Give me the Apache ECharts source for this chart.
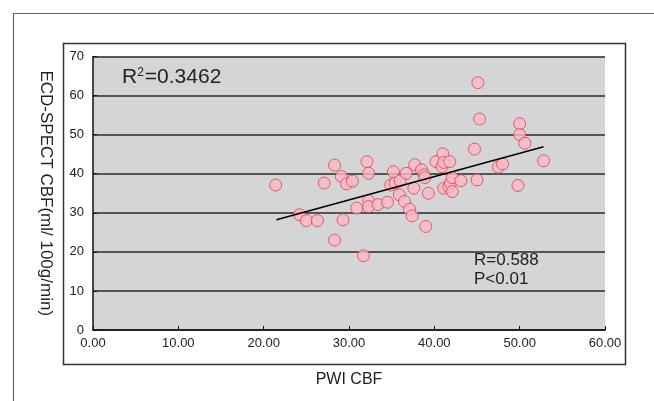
<!DOCTYPE html>
<html>
<head>
<meta charset="utf-8">
<script src="https://cdn.jsdelivr.net/npm/echarts@6/dist/echarts.min.js"></script>
<style>
  html, body { margin: 0; padding: 0; background: #fff; }
  #main { width: 654px; height: 401px; }
</style>
</head>
<body>
<div id="main"></div>
<script>
// PWI CBF (x) vs ECD-SPECT CBF (y)
var pwiCbf = [21.4, 24.2, 25.0, 26.3, 27.1, 28.3, 28.3, 29.1, 29.3, 29.7,
  30.4, 30.9, 31.7, 32.1, 32.3, 32.3, 32.3, 33.4, 34.5, 34.9,
  35.2, 35.4, 35.9, 36.0, 36.5, 36.7, 37.1, 37.4, 37.6, 37.7,
  38.5, 38.8, 38.9, 39.0, 39.3, 40.2, 40.9, 41.0, 41.1, 41.1,
  41.8, 41.7, 41.9, 42.1, 42.1, 43.1, 44.7, 45.0, 45.1, 45.3,
  47.5, 48.0, 49.8, 50.0, 50.0, 50.6, 52.8];
var spectCbf = [37.1, 29.5, 28.0, 28.0, 37.6, 42.2, 23.0, 39.3, 28.2, 37.4,
  38.1, 31.2, 19.0, 43.1, 40.1, 33.1, 31.6, 32.1, 32.7, 37.1,
  40.5, 37.6, 34.6, 38.2, 32.9, 40.1, 30.9, 29.2, 36.3, 42.3,
  41.0, 39.7, 39.0, 26.5, 35.0, 43.1, 41.8, 45.1, 42.9, 36.3,
  43.1, 36.7, 37.6, 35.4, 39.0, 38.2, 46.3, 38.4, 63.3, 54.0,
  41.7, 42.5, 37.0, 52.8, 50.0, 47.8, 43.3];
// linear fit end points
var fitX = [21.5, 52.8];
var fitY = [28.2, 46.9];
var xTicks = [0, 10, 20, 30, 40, 50, 60];
var yTicks = [0, 10, 20, 30, 40, 50, 60, 70];

var points = pwiCbf.map(function (x, i) { return [x, spectCbf[i]]; });
var fitLine = fitX.map(function (x, i) { return [x, fitY[i]]; });

var font = '"Liberation Sans", Arial, sans-serif';
var chart = echarts.init(document.getElementById('main'));
var option = {
  backgroundColor: '#fff',
  animation: false,
  textStyle: { fontFamily: font },
  grid: {
    left: 93, top: 56.5, right: 49, bottom: 71,
    show: true, backgroundColor: '#d5d5d7', borderWidth: 0
  },
  xAxis: {
    type: 'value',
    min: xTicks[0], max: xTicks[xTicks.length - 1], interval: 10,
    name: 'PWI CBF', nameLocation: 'center', nameGap: 42,
    nameTextStyle: { fontSize: 16, color: '#222', fontFamily: font },
    axisLine: { onZero: false, lineStyle: { color: '#111', width: 1.5 } },
    axisTick: { inside: true, length: 4, lineStyle: { color: '#111' } },
    axisLabel: {
      fontSize: 13, color: '#222', margin: 7,
      formatter: function (v) { return v.toFixed(2); }
    },
    splitLine: { show: false }
  },
  yAxis: {
    type: 'value',
    min: yTicks[0], max: yTicks[yTicks.length - 1], interval: 10,
    name: 'ECD-SPECT CBF(ml/ 100g/min)', nameLocation: 'center', nameGap: 39,
    nameRotate: -90,
    nameTextStyle: { fontSize: 17, color: '#222', fontFamily: font },
    axisLine: { onZero: false, lineStyle: { color: '#111', width: 1.5 } },
    axisTick: { inside: true, length: 4, lineStyle: { color: '#111' } },
    axisLabel: { fontSize: 13, color: '#222', margin: 9 },
    splitLine: { lineStyle: { color: '#2a2a2a', width: 1.5 } }
  },
  series: [
    {
      type: 'scatter',
      data: points,
      symbol: 'circle',
      symbolSize: 12,
      itemStyle: { color: '#f6b9c6', borderColor: '#e4404f', borderWidth: 1 },
      z: 3
    },
    {
      type: 'line',
      data: fitLine,
      showSymbol: false,
      lineStyle: { color: '#000', width: 1.5 },
      z: 4
    }
  ],
  graphic: [
    {
      type: 'rect', left: 11, top: 11, silent: true,
      shape: { width: 700, height: 420 },
      style: { fill: 'none', stroke: '#666', lineWidth: 1.2 }
    },
    {
      type: 'rect', left: 61, top: 41, silent: true,
      shape: { width: 562, height: 321 },
      style: { fill: 'none', stroke: '#333', lineWidth: 1.5 }
    },
    {
      type: 'text', left: 122, top: 67, z: 10,
      style: {
        text: '{a|R}{s|2}{a|=0.3462}',
        rich: {
          a: { fontSize: 21, fill: '#222', fontFamily: font },
          s: { fontSize: 12, fill: '#222', fontFamily: font, verticalAlign: 'top', padding: [0, 1, 9, 0] }
        }
      }
    },
    {
      type: 'text', left: 474, top: 251, z: 10,
      style: { text: 'R=0.588\nP<0.01', fontSize: 17, lineHeight: 19, fill: '#222', fontFamily: font }
    }
  ]
};
chart.setOption(option);
</script>
</body>
</html>
